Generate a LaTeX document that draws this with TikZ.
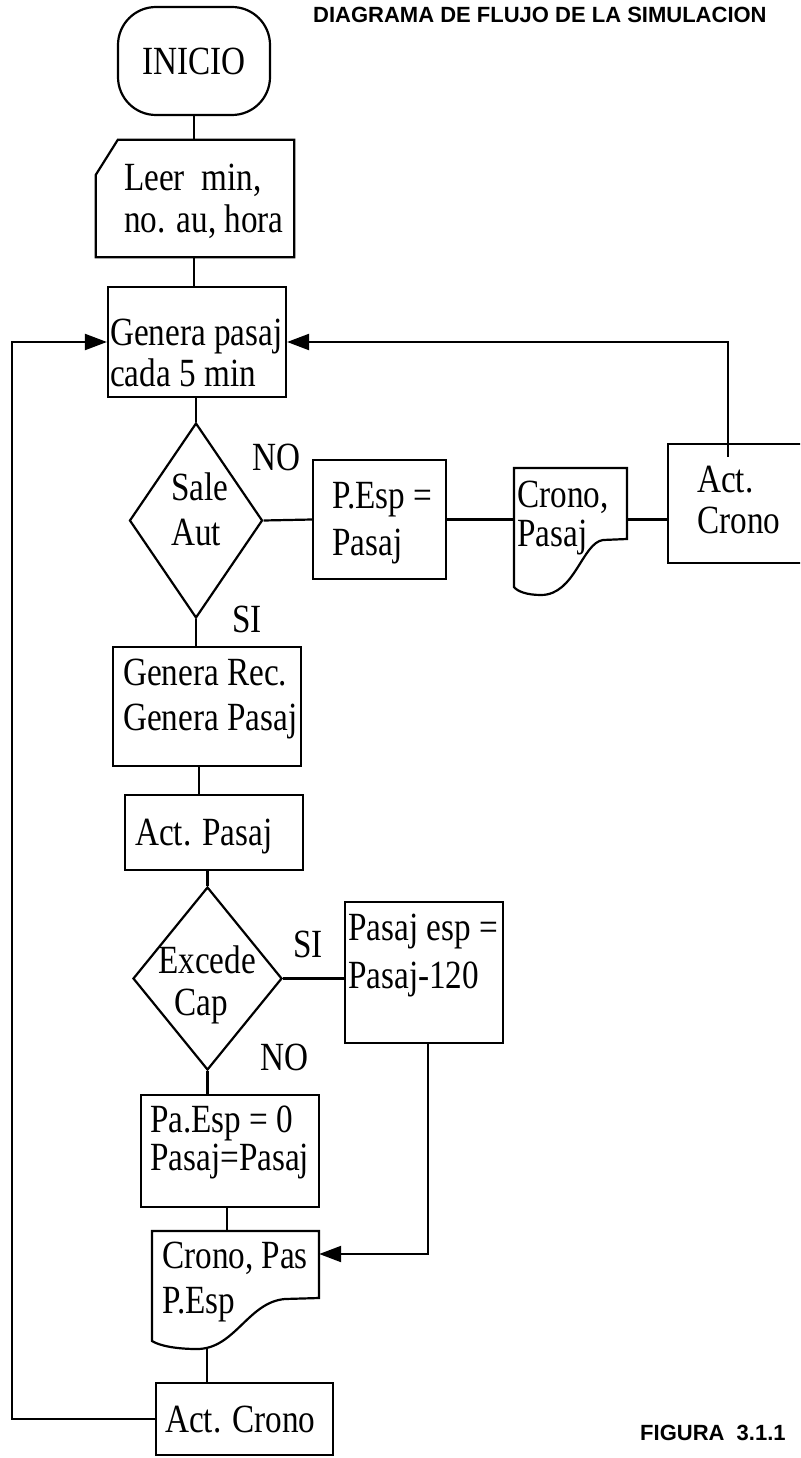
\documentclass[tikz,border=0pt]{standalone}
\usepackage{fontspec}
\setmainfont{Liberation Serif}[FakeStretch=0.83]
\newfontfamily\headfont{Liberation Sans}
\usetikzlibrary{arrows.meta,shapes.geometric}
\begin{document}
\begin{tikzpicture}[x=1pt,y=-1pt,
  shp/.style={draw,line width=2.2pt,inner sep=0pt},
  ghost/.style={inner sep=0pt},
  conn/.style={line width=2.2pt},
  arr/.style={line width=2.2pt,-{Triangle[length=22pt,width=16pt]}},
  txt/.style={anchor=base west,inner sep=0pt,font=\fontsize{40}{44}\selectfont},
  ctxt/.style={anchor=base,inner sep=0pt,font=\fontsize{40}{44}\selectfont},
  head/.style={anchor=base west,inner sep=0pt,font=\headfont\bfseries\fontsize{22}{26}\selectfont},
  figlab/.style={anchor=base west,inner sep=0pt,font=\headfont\bfseries\fontsize{22}{26}\selectfont}]
\clip (0,0) rectangle (800,1458);
\fill[white] (0,0) rectangle (800,1458);

% title
\node[head] (title) at (313,23) {DIAGRAMA DE FLUJO DE LA SIMULACION};
\node[figlab] (fig) at (640,1440) {FIGURA\ \ 3.1.1};

% INICIO
\node[shp,rounded corners=38pt,minimum width=152pt,minimum height=108pt] (inicio) at (194,61) {};
\node[ctxt] (tinicio) at (194,75) {INICIO};

% Leer (manual input)
\node[ghost,minimum width=198pt,minimum height=117pt] (leer) at (195,198.5) {};
\draw[conn] ([xshift=22pt]leer.north west) -- (leer.north east) -- (leer.south east)
  -- (leer.south west) -- ([yshift=-35pt]leer.north west) -- cycle;
\node[txt] (tleer1) at (124,190) {Leer\ \ min,};
\node[txt] (tleer2) at (124,233) {no. au, hora};

% Genera pasaj
\node[shp,minimum width=178pt,minimum height=110pt] (genp) at (197,342) {};
\node[txt] (tgenp1) at (110,345) {Genera pasaj};
\node[txt] (tgenp2) at (110,386) {cada 5 min};

% Sale Aut
\node[shp,diamond,minimum width=133pt,minimum height=195pt] (sale) at (196,520.5) {};
\node[ctxt] (tsale1) at (200,500) {Sale};
\node[ctxt] (tsale2) at (196,545) {Aut};
\node[txt] (no1) at (252,470) {NO};
\node[txt] (si1) at (232,632) {SI};

% P.Esp = Pasaj
\node[shp,minimum width=133pt,minimum height=119pt] (pesp) at (379.5,519.5) {};
\node[txt] (tpesp1) at (332,508) {P.Esp =};
\node[txt] (tpesp2) at (332,555) {Pasaj};

% Crono, Pasaj document
\node[ghost,minimum width=113pt,minimum height=127pt] (docA) at (570.5,531.5) {};
\draw[conn] (514,468) -- (627,468) -- (627,539) -- (603,540)
  .. controls (582,543) and (575,595) .. (541,595)
  .. controls (526,595) and (517,591) .. (514,587) -- cycle;
\node[txt] (tdocA1) at (517,507) {Crono,};
\node[txt] (tdocA2) at (517,546) {Pasaj};

% Act. Crono (right)
\node[shp,minimum width=172pt,minimum height=119pt] (actcr1) at (754,503.5) {};
\node[txt] (tact1a) at (697,492) {Act.};
\node[txt] (tact1b) at (697,533) {Crono};

% Genera Rec.
\node[shp,minimum width=188pt,minimum height=119pt] (genrec) at (207,706.5) {};
\node[txt] (tgenrec1) at (123,685) {Genera Rec.};
\node[txt] (tgenrec2) at (123,730) {Genera Pasaj};

% Act. Pasaj
\node[shp,minimum width=178pt,minimum height=75pt] (actpas) at (214,832.5) {};
\node[txt] (tactpas) at (135,845) {Act. Pasaj};

% Excede Cap
\node[shp,diamond,minimum width=149pt,minimum height=183pt] (exc) at (207.5,978.5) {};
\node[ctxt] (texc1) at (207,973) {Excede};
\node[ctxt] (texc2) at (201,1015) {Cap};
\node[txt] (si2) at (293,957) {SI};
\node[txt] (no2) at (260,1070) {NO};

% Pasaj esp
\node[shp,minimum width=158pt,minimum height=141pt] (pasesp) at (424,972.5) {};
\node[txt] (tpasesp1) at (348,940) {Pasaj esp =};
\node[txt] (tpasesp2) at (348,988) {Pasaj-120};

% Pa.Esp = 0
\node[shp,minimum width=178pt,minimum height=112pt] (paesp0) at (230,1151) {};
\node[txt] (tpaesp1) at (150,1132) {Pa.Esp = 0};
\node[txt] (tpaesp2) at (150,1170) {Pasaj=Pasaj};

% Crono, Pas document
\node[ghost,minimum width=167pt,minimum height=118pt] (docB) at (235.5,1290) {};
\draw[conn] (152,1231) -- (319,1231) -- (319,1298) -- (285,1299)
  .. controls (248,1302) and (235,1349) .. (197,1349)
  .. controls (177,1349) and (160,1346) .. (152,1341) -- cycle;
\node[txt] (tdocB1) at (162,1268) {Crono, Pas};
\node[txt] (tdocB2) at (162,1313) {P.Esp};

% Act. Crono (bottom)
\node[shp,minimum width=177pt,minimum height=72pt] (actcr2) at (244.5,1419) {};
\node[txt] (tactcr2) at (165,1432) {Act. Crono};

% connectors
\draw[conn] (inicio.south) -- (inicio.south |- leer.north);
\draw[conn] (inicio.south |- leer.south) -- (inicio.south |- genp.north);
\draw[conn] (sale.north |- genp.south) -- (sale.north);
\draw[conn] (sale.east) -- (pesp.west);
\draw[conn] (pesp.east) -- (pesp.east -| docA.west);
\draw[conn] (pesp.east -| docA.east) -- (pesp.east -| actcr1.west);
\draw[arr] ([xshift=-26pt,yshift=-14pt]actcr1.north) |- (genp.east);
\draw[conn] (sale.south) -- (sale.south |- genrec.north);
\draw[conn] ([xshift=-8pt]genrec.south) -- ([xshift=-8pt]genrec.south |- actpas.north);
\draw[conn] (exc.north |- actpas.south) -- (exc.north);
\draw[conn] (exc.east) -- (exc.east -| pasesp.west);
\draw[conn] (exc.south) -- (exc.south |- paesp0.north);
\draw[arr] ([xshift=4pt]pasesp.south) |- ([yshift=36pt]docB.east);
\draw[conn] ([xshift=-3pt]paesp0.south) -- ([xshift=-3pt]paesp0.south |- docB.north);
\draw[conn] ([xshift=-37.5pt]actcr2.north |- docB.south) -- ([xshift=-37.5pt]actcr2.north);
\coordinate (lp) at (12,1419);
\draw[arr] (actcr2.west) -- (lp) |- (genp.west);
\end{tikzpicture}
\end{document}
